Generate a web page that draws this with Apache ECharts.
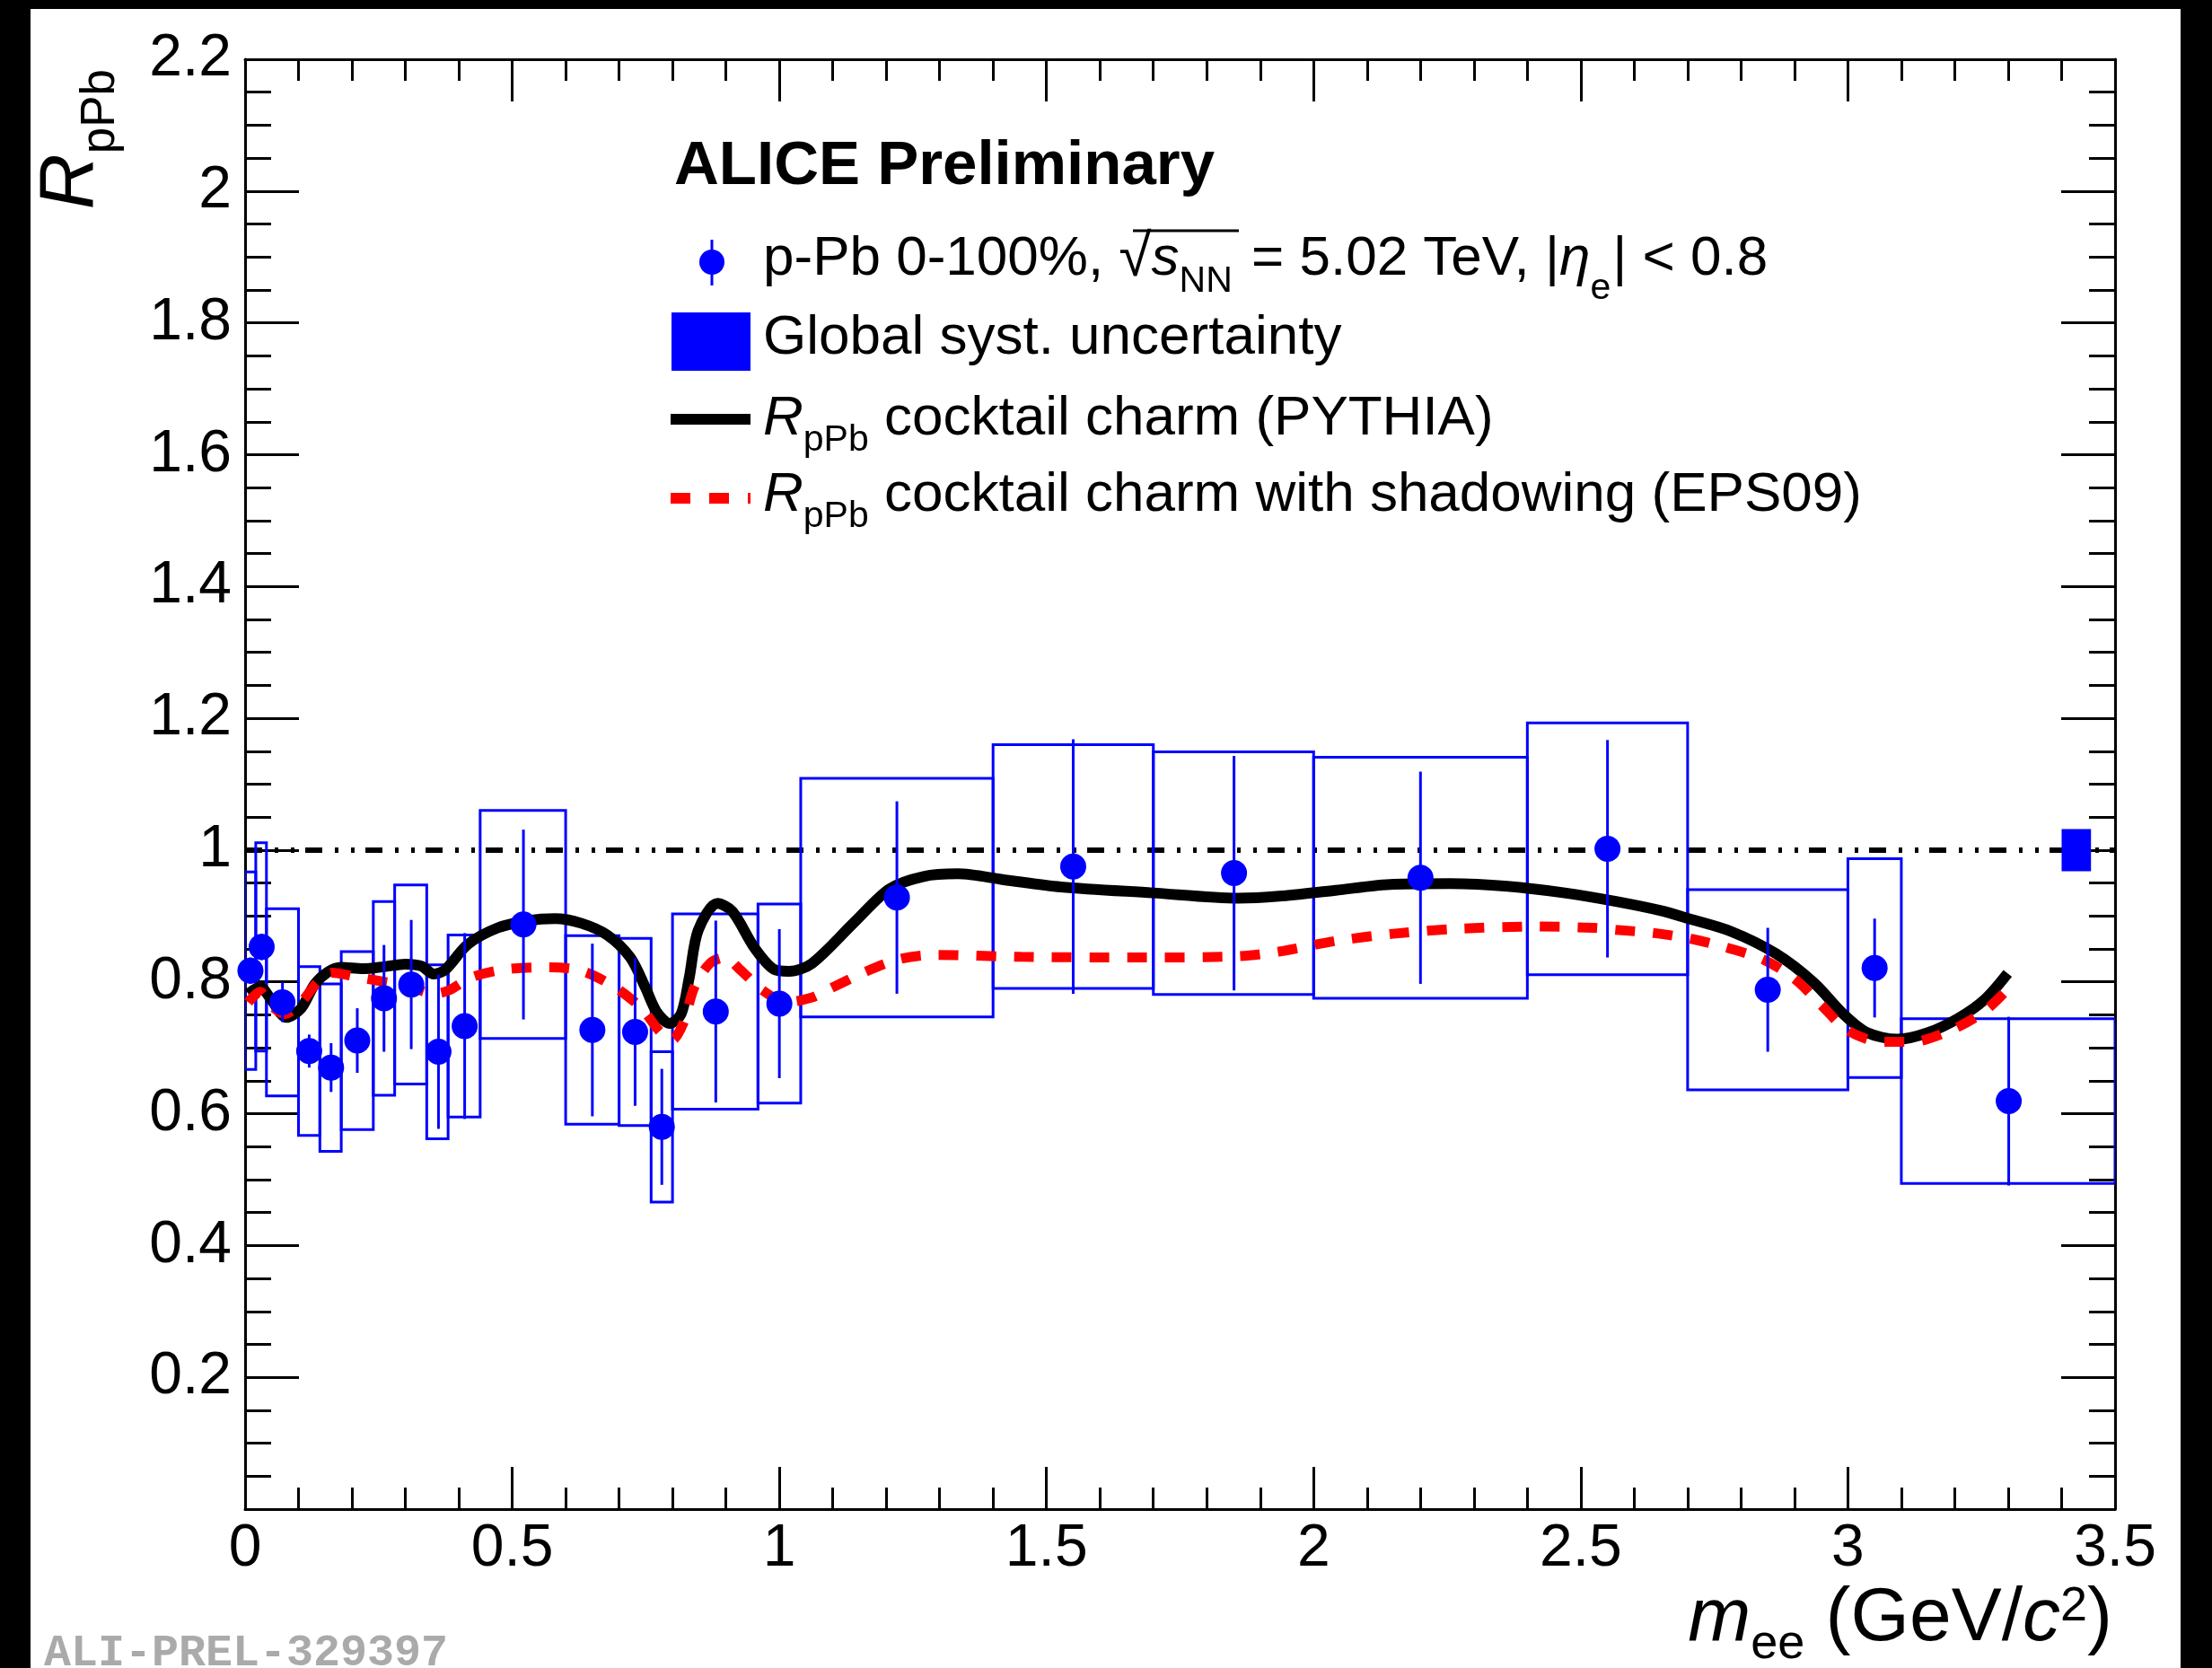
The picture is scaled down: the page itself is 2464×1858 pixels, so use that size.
<!DOCTYPE html>
<html>
<head>
<meta charset="utf-8">
<title>RpPb vs mee</title>
<script src="https://cdn.jsdelivr.net/npm/echarts@6/dist/echarts.min.js"></script>
<style>
    html, body { margin: 0; padding: 0; background: #fff; }
    #chart { width: 2464px; height: 1858px; }
</style>
</head>
<body>
<div id="chart"></div>
<script>
// data points (p-Pb 0-100%)
var massX   = [0.010, 0.031, 0.070, 0.120, 0.161, 0.210, 0.260, 0.311, 0.362, 0.411, 0.521, 0.650, 0.730, 0.780, 0.881, 1.000, 1.220, 1.550, 1.851, 2.200, 2.550, 2.850, 3.050, 3.301];
var rpPb    = [0.817, 0.853, 0.769, 0.695, 0.670, 0.711, 0.775, 0.796, 0.694, 0.733, 0.887, 0.727, 0.724, 0.580, 0.755, 0.767, 0.928, 0.975, 0.965, 0.958, 1.002, 0.788, 0.821, 0.619];
var statErr = [0.020, 0.020, 0.030, 0.025, 0.037, 0.049, 0.081, 0.098, 0.117, 0.141, 0.144, 0.131, 0.112, 0.088, 0.138, 0.113, 0.146, 0.193, 0.178, 0.161, 0.165, 0.094, 0.075, 0.128];
var systErr = [0.150, 0.158, 0.142, 0.128, 0.127, 0.135, 0.147, 0.151, 0.132, 0.138, 0.173, 0.143, 0.142, 0.114, 0.148, 0.151, 0.181, 0.185, 0.184, 0.183, 0.191, 0.152, 0.166, 0.125];
var binLow  = [0.00, 0.02, 0.04, 0.10, 0.14, 0.18, 0.24, 0.28, 0.34, 0.38, 0.44, 0.60, 0.70, 0.76, 0.80, 0.96, 1.04, 1.40, 1.70, 2.00, 2.40, 2.70, 3.00, 3.10];
var binHigh = [0.02, 0.04, 0.10, 0.14, 0.18, 0.24, 0.28, 0.34, 0.38, 0.44, 0.60, 0.70, 0.76, 0.80, 0.96, 1.04, 1.40, 1.70, 2.00, 2.40, 2.70, 3.00, 3.10, 3.50];

// global systematic uncertainty box at unity
var globalBin  = [3.40, 3.455];
var globalSyst = 0.032;
var unityLine  = [[0, 1], [3.5, 1]];

// cocktail charm (PYTHIA)
var pythiaX = [0.006, 0.028, 0.049, 0.077, 0.105, 0.130, 0.155, 0.180, 0.220, 0.260, 0.300, 0.330, 0.353, 0.374, 0.417, 0.473, 0.530, 0.580, 0.629, 0.678, 0.721, 0.749, 0.770, 0.795, 0.816, 0.831, 0.848, 0.884, 0.912, 0.954, 0.990, 1.018, 1.061, 1.141, 1.206, 1.270, 1.334, 1.420, 1.527, 1.699, 1.859, 1.935, 2.041, 2.149, 2.256, 2.363, 2.470, 2.566, 2.650, 2.702, 2.780, 2.865, 2.936, 2.993, 3.036, 3.093, 3.150, 3.207, 3.257, 3.299];
var pythiaY = [0.782, 0.792, 0.773, 0.746, 0.760, 0.796, 0.815, 0.822, 0.820, 0.823, 0.827, 0.824, 0.812, 0.818, 0.857, 0.882, 0.893, 0.896, 0.889, 0.871, 0.837, 0.792, 0.755, 0.737, 0.751, 0.805, 0.878, 0.919, 0.907, 0.851, 0.819, 0.816, 0.828, 0.891, 0.941, 0.960, 0.964, 0.955, 0.944, 0.935, 0.927, 0.930, 0.939, 0.948, 0.949, 0.945, 0.935, 0.922, 0.908, 0.896, 0.877, 0.843, 0.799, 0.750, 0.723, 0.713, 0.723, 0.745, 0.774, 0.813];

// cocktail charm with shadowing (EPS09)
var eps09X = [0.006, 0.028, 0.049, 0.074, 0.105, 0.134, 0.162, 0.212, 0.261, 0.304, 0.353, 0.381, 0.424, 0.487, 0.565, 0.629, 0.692, 0.742, 0.777, 0.799, 0.820, 0.841, 0.870, 0.898, 0.926, 0.969, 1.013, 1.060, 1.088, 1.163, 1.227, 1.291, 1.452, 1.666, 1.859, 1.935, 2.041, 2.149, 2.256, 2.417, 2.524, 2.566, 2.638, 2.709, 2.773, 2.844, 2.901, 2.950, 3.000, 3.064, 3.120, 3.191, 3.255, 3.299];
var eps09Y = [0.769, 0.785, 0.764, 0.751, 0.769, 0.798, 0.814, 0.807, 0.800, 0.794, 0.782, 0.787, 0.807, 0.819, 0.822, 0.817, 0.792, 0.760, 0.724, 0.712, 0.737, 0.792, 0.828, 0.837, 0.819, 0.787, 0.769, 0.776, 0.787, 0.816, 0.835, 0.841, 0.838, 0.837, 0.839, 0.846, 0.862, 0.873, 0.880, 0.884, 0.882, 0.879, 0.874, 0.865, 0.852, 0.833, 0.804, 0.765, 0.726, 0.709, 0.709, 0.726, 0.755, 0.789];

var FF = '"Liberation Sans", Arial, Helvetica, sans-serif';
var BLUE = '#0000ff';

function tok(size, extra) {
    var s = { fontSize: size, fontFamily: FF, fill: '#000', fontStyle: 'normal', fontWeight: 'normal' };
    for (var k in extra) s[k] = extra[k];
    return s;
}

function pairs(xs, ys) {
    return xs.map(function (x, i) { return [x, ys[i]]; });
}

var myChart = echarts.init(document.getElementById('chart'));

var tickStyle = { color: '#000', width: 3 };

function makeAxis(pos, min, max, interval, split, len, minorLen, label) {
    return {
        type: 'value',
        position: pos,
        min: min,
        max: max,
        interval: interval,
        axisLine: { show: true, onZero: false, lineStyle: { color: '#000', width: 3 } },
        axisTick: { show: true, inside: true, length: len, lineStyle: tickStyle },
        minorTick: { show: true, splitNumber: split, length: minorLen, lineStyle: tickStyle },
        splitLine: { show: false },
        minorSplitLine: { show: false },
        axisLabel: label
    };
}

var option = {
    animation: false,
    backgroundColor: '#fff',
    grid: { left: 273, right: 108, top: 66, bottom: 177, containLabel: false },
    xAxis: [
        makeAxis('bottom', 0, 3.5, 0.5, 5, 47, 24,
            { color: '#000', fontSize: 66, fontFamily: FF, margin: 12, showMinLabel: true, showMaxLabel: true }),
        makeAxis('top', 0, 3.5, 0.5, 5, 47, 24, { show: false })
    ],
    yAxis: [
        makeAxis('left', 0, 2.2, 0.2, 4, 60, 29, {
            color: '#000', fontSize: 66, fontFamily: FF, margin: 15,
            formatter: function (v) { return v === 0 ? '' : String(+v.toFixed(1)); }
        }),
        makeAxis('right', 0, 2.2, 0.2, 4, 60, 29, { show: false })
    ],
    series: [
        {
            name: 'unity',
            type: 'line',
            data: unityLine,
            symbol: 'none',
            z: 1,
            lineStyle: { color: '#000', width: 6, type: [19, 14, 4, 14, 4, 12] }
        },
        {
            name: 'syst',
            type: 'custom',
            z: 2,
            clip: true,
            data: massX.map(function (x, i) {
                return [binLow[i], binHigh[i], rpPb[i] - systErr[i], rpPb[i] + systErr[i]];
            }),
            encode: { x: [0, 1], y: [2, 3] },
            renderItem: function (params, api) {
                var a = api.coord([api.value(0), api.value(3)]);
                var b = api.coord([api.value(1), api.value(2)]);
                return {
                    type: 'rect',
                    shape: { x: a[0], y: a[1], width: b[0] - a[0], height: b[1] - a[1] },
                    style: { fill: 'none', stroke: BLUE, lineWidth: 3 }
                };
            }
        },
        {
            name: 'global',
            type: 'custom',
            z: 2,
            data: [[globalBin[0], globalBin[1], 1 - globalSyst, 1 + globalSyst]],
            encode: { x: [0, 1], y: [2, 3] },
            renderItem: function (params, api) {
                var a = api.coord([api.value(0), api.value(3)]);
                var b = api.coord([api.value(1), api.value(2)]);
                return {
                    type: 'rect',
                    shape: { x: a[0], y: a[1], width: b[0] - a[0], height: b[1] - a[1] },
                    style: { fill: BLUE, stroke: 'none' }
                };
            }
        },
        {
            name: 'PYTHIA',
            type: 'line',
            data: pairs(pythiaX, pythiaY),
            symbol: 'none',
            smooth: 0.3,
            z: 3,
            lineStyle: { color: '#000', width: 12 }
        },
        {
            name: 'EPS09',
            type: 'line',
            data: pairs(eps09X, eps09Y),
            symbol: 'none',
            smooth: 0.3,
            z: 4,
            lineStyle: { color: '#ff0000', width: 11, type: [22, 20], cap: 'butt' }
        },
        {
            name: 'stat',
            type: 'custom',
            z: 5,
            data: massX.map(function (x, i) { return [x, rpPb[i] - statErr[i], rpPb[i] + statErr[i]]; }),
            encode: { x: 0, y: [1, 2] },
            renderItem: function (params, api) {
                var lo = api.coord([api.value(0), api.value(1)]);
                var hi = api.coord([api.value(0), api.value(2)]);
                return {
                    type: 'line',
                    shape: { x1: lo[0], y1: lo[1], x2: hi[0], y2: hi[1] },
                    style: { stroke: BLUE, lineWidth: 3 }
                };
            }
        },
        {
            name: 'data',
            type: 'scatter',
            data: pairs(massX, rpPb),
            symbol: 'circle',
            symbolSize: 29,
            z: 6,
            itemStyle: { color: BLUE, opacity: 1 }
        }
    ],
    graphic: [
        // black frame of the original screenshot
        { type: 'rect', shape: { x: 0, y: 0, width: 34, height: 1858 }, style: { fill: '#000' } },
        { type: 'rect', shape: { x: 0, y: 0, width: 2464, height: 10 }, style: { fill: '#000' } },
        { type: 'rect', shape: { x: 2429, y: 0, width: 35, height: 1858 }, style: { fill: '#000' } },

        // axis titles
        {
            type: 'text', x: 79, y: 77, rotation: Math.PI / 2,
            style: {
                text: '{r|R}{s|pPb}', align: 'right', verticalAlign: 'middle', fill: '#000',
                rich: { r: tok(86, { fontStyle: 'italic' }), s: tok(53, { padding: [66, 0, 0, 0] }) }
            }
        },
        {
            type: 'text', x: 2353, y: 1804,
            style: {
                text: '{i|m}{s|ee}{t| (GeV/}{i|c}{p|2}{t|)}', align: 'right', verticalAlign: 'middle', fill: '#000',
                rich: {
                    t: tok(84), i: tok(84, { fontStyle: 'italic' }),
                    s: tok(54, { padding: [56, 0, 0, 0] }), p: tok(54, { padding: [0, 0, 28, 0] })
                }
            }
        },

        // legend
        {
            type: 'text', x: 751, y: 186,
            style: { text: 'ALICE Preliminary', fontSize: 69, fontWeight: 'bold', fontFamily: FF, fill: '#000', align: 'left', verticalAlign: 'middle' }
        },
        { type: 'line', shape: { x1: 793, y1: 267, x2: 793, y2: 318 }, style: { stroke: BLUE, lineWidth: 3 } },
        { type: 'circle', shape: { cx: 793, cy: 292, r: 14 }, style: { fill: BLUE } },
        {
            type: 'text', x: 850, y: 289,
            style: {
                text: '{t|p-Pb 0-100%, }{q|√}{i|s}{n|NN}{t| = 5.02 TeV, |}{i|η}{e|e}{t|| < 0.8}',
                align: 'left', verticalAlign: 'middle', fill: '#000',
                rich: {
                    t: tok(62), i: tok(62, { fontStyle: 'italic' }), q: tok(66),
                    n: tok(41, { padding: [50, 4, 0, 0] }), e: tok(41, { padding: [66, 2, 0, 0] })
                }
            }
        },
        { type: 'line', shape: { x1: 1262, y1: 257, x2: 1380, y2: 257 }, style: { stroke: '#000', lineWidth: 3 } },

        { type: 'rect', shape: { x: 748, y: 348, width: 88, height: 65 }, style: { fill: BLUE } },
        {
            type: 'text', x: 850, y: 377,
            style: { text: 'Global syst. uncertainty', fontSize: 62, fontFamily: FF, fill: '#000', align: 'left', verticalAlign: 'middle' }
        },

        { type: 'line', shape: { x1: 747, y1: 467, x2: 836, y2: 467 }, style: { stroke: '#000', lineWidth: 12 } },
        {
            type: 'text', x: 850, y: 467,
            style: {
                text: '{i|R}{s|pPb}{t| cocktail charm (PYTHIA)}', align: 'left', verticalAlign: 'middle', fill: '#000',
                rich: { t: tok(62), i: tok(62, { fontStyle: 'italic' }), s: tok(41, { padding: [48, 0, 0, 0] }) }
            }
        },

        { type: 'line', shape: { x1: 747, y1: 555, x2: 836, y2: 555 }, style: { stroke: '#ff0000', lineWidth: 12, lineDash: [22, 21] } },
        {
            type: 'text', x: 850, y: 552,
            style: {
                text: '{i|R}{s|pPb}{t| cocktail charm with shadowing (EPS09)}', align: 'left', verticalAlign: 'middle', fill: '#000',
                rich: { t: tok(62), i: tok(62, { fontStyle: 'italic' }), s: tok(41, { padding: [48, 0, 0, 0] }) }
            }
        },

        // figure id
        {
            type: 'text', x: 49, y: 1842,
            style: { text: 'ALI-PREL-329397', fontSize: 50, fontWeight: 'bold', fontFamily: '"Liberation Mono", "DejaVu Sans Mono", monospace', fill: '#aaaaaa', align: 'left', verticalAlign: 'middle' }
        }
    ]
};

myChart.setOption(option);
window.addEventListener('resize', function () {
    myChart.resize();
});
</script>
</body>
</html>
